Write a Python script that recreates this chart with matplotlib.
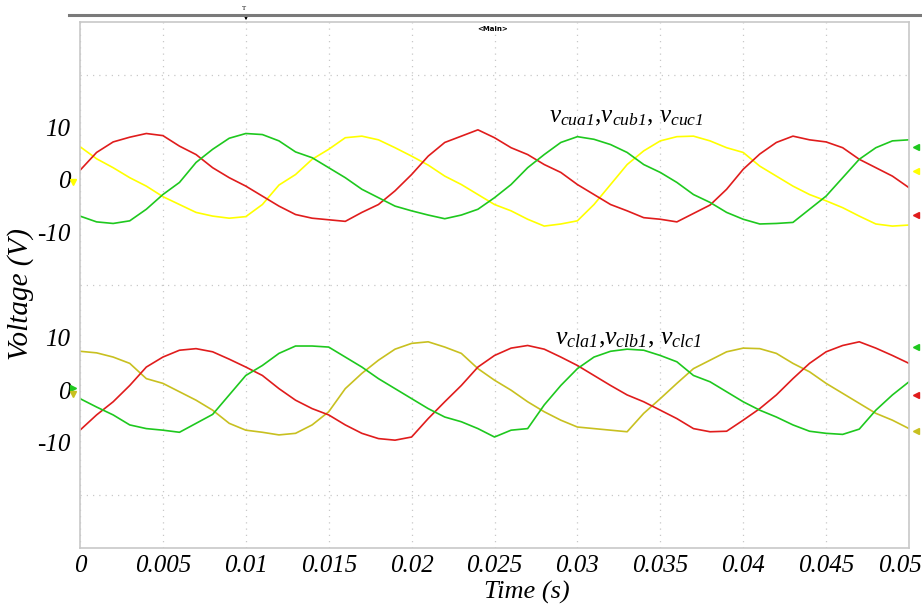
import numpy as np
import matplotlib.pyplot as plt
from matplotlib.lines import Line2D
from matplotlib.transforms import ScaledTranslation

plt.rcParams['font.family'] = ['Liberation Serif', 'DejaVu Serif']
plt.rcParams['mathtext.fontset'] = 'custom'
plt.rcParams['mathtext.rm'] = 'Liberation Serif:italic'
plt.rcParams['mathtext.it'] = 'Liberation Serif:italic'

# sample times (s), one reading per millisecond
t = np.arange(51) * 1e-3

# upper group: v_cua1, v_cub1, v_cuc1 (V)
v_cua1 = [1.8, 5.2, 7.2, 8.1, 8.8, 8.4, 6.4, 4.8, 2.3, 0.4,
          -1.2, -3.1, -5.0, -6.6, -7.3, -7.6, -7.9, -6.2, -4.7, -2.1,
          1.0, 4.5, 7.1, 8.3, 9.5, 8.0, 6.1, 4.8, 2.9, 1.4,
          -0.9, -2.8, -4.7, -5.9, -7.2, -7.5, -8.0, -6.4, -4.8, -1.8,
          2.0, 4.9, 7.1, 8.3, 7.6, 7.2, 6.1, 3.9, 2.3, 0.7, -1.5]
v_cub1 = [-6.9, -8.0, -8.3, -7.8, -5.6, -2.8, -0.5, 3.3, 5.8, 7.9,
          8.8, 8.6, 7.4, 5.3, 4.2, 2.3, 0.4, -1.8, -3.4, -5.0,
          -5.9, -6.7, -7.4, -6.7, -5.6, -3.4, -0.9, 2.3, 4.8, 7.1,
          8.2, 7.7, 6.7, 5.2, 2.9, 1.4, -0.5, -2.8, -4.3, -6.2,
          -7.5, -8.4, -8.3, -8.1, -5.6, -3.1, 0.4, 3.9, 6.1, 7.4, 7.6]
v_cuc1 = [6.3, 4.0, 2.3, 0.4, -1.2, -3.2, -4.7, -6.2, -6.9, -7.3,
          -7.0, -4.7, -1.0, 1.0, 3.9, 5.8, 8.0, 8.3, 7.6, 6.1,
          4.5, 2.8, 0.7, -0.9, -2.8, -4.7, -5.9, -7.5, -8.8, -8.4,
          -7.8, -4.7, -0.9, 2.9, 5.5, 7.4, 8.2, 8.3, 7.4, 6.1,
          5.2, 2.6, 0.7, -1.2, -2.8, -4.0, -5.3, -6.9, -8.4, -8.8, -8.6]

# lower group: v_cla1, v_clb1, v_clc1 (V)
v_cla1 = [-7.6, -4.7, -2.2, 0.9, 4.4, 6.3, 7.6, 7.9, 7.3, 5.9,
          4.4, 2.8, 0.3, -1.9, -3.5, -4.7, -6.6, -8.2, -9.2, -9.5,
          -8.9, -5.4, -2.2, 0.9, 4.4, 6.6, 8.0, 8.5, 7.8, 6.3,
          4.7, 2.8, 0.9, -0.9, -2.2, -3.8, -5.4, -7.3, -7.9, -7.8,
          -5.7, -3.5, -0.9, 2.2, 5.1, 7.3, 8.5, 9.2, 8.0, 6.6, 5.1]
v_clb1 = [-1.6, -3.2, -4.7, -6.6, -7.3, -7.6, -8.0, -6.3, -4.6, -0.9,
          2.8, 4.7, 7.0, 8.4, 8.4, 8.2, 6.3, 4.4, 2.2, 0.3,
          -1.6, -3.5, -5.1, -6.0, -7.3, -8.9, -7.6, -7.3, -2.8, 0.9,
          4.1, 6.3, 7.4, 7.8, 7.6, 6.6, 5.4, 2.8, 1.6, -0.3,
          -2.2, -3.8, -5.1, -6.6, -7.8, -8.2, -8.4, -7.4, -3.8, -0.9, 1.6]
v_clc1 = [7.4, 7.1, 6.3, 5.1, 2.2, 1.3, -0.3, -1.9, -3.8, -6.3,
          -7.6, -8.0, -8.5, -8.2, -6.6, -4.1, 0.3, 3.2, 5.7, 7.8,
          8.9, 9.2, 8.2, 7.0, 4.1, 1.9, 0.0, -2.2, -4.1, -5.7,
          -7.0, -7.3, -7.6, -7.9, -4.4, -1.6, 1.3, 4.1, 5.7, 7.3,
          8.0, 7.9, 7.0, 5.1, 3.5, 1.3, -0.6, -2.5, -4.4, -5.7, -7.3]

# channel flags on the right edge (V, within each group)
flag_upper = [6.2, 1.6, -6.6]
flag_lower = [8.3, -0.9, -7.7]

x_ticks = [0, 0.005, 0.01, 0.015, 0.02, 0.025, 0.03, 0.035, 0.04, 0.045, 0.05]
x_labels = ['0', '0.005', '0.01', '0.015', '0.02', '0.025', '0.03',
            '0.035', '0.04', '0.045', '0.05']

red = '#e01c1c'
green = '#1ec81e'
yellow = '#ffff00'
olive = '#c8c020'

up_off = 0
low_off = -40

fig = plt.figure(figsize=(9.22, 6.08), dpi=100)
ax = fig.add_axes([80/922, 1-548/608, 829/922, 526/608])

lw = 1.2
ax.plot(t, np.array(v_cuc1) + up_off, color=yellow, lw=lw)
ax.plot(t, np.array(v_cua1) + up_off, color=red, lw=lw)
ax.plot(t, np.array(v_cub1) + up_off, color=green, lw=lw)
ax.plot(t, np.array(v_clc1) + low_off, color=olive, lw=lw)
ax.plot(t, np.array(v_cla1) + low_off, color=red, lw=lw)
ax.plot(t, np.array(v_clb1) + low_off, color=green, lw=lw)

ax.set_xlim(0, 0.05)
ax.set_ylim(-70, 30)

# right-hand channel flags
ytr = ax.get_yaxis_transform()
for v, c in zip(flag_upper, [green, yellow, red]):
    ax.plot(1.008, v + up_off, marker='<', ms=5, color=c, clip_on=False, transform=ytr)
for v, c in zip(flag_lower, [green, red, olive]):
    ax.plot(1.008, v + low_off, marker='<', ms=5, color=c, clip_on=False, transform=ytr)
# left zero markers
ax.plot(-0.008, up_off - 0.5, marker='v', ms=4, color=yellow, clip_on=False, transform=ytr)
ax.plot(-0.008, low_off + 0.5, marker='>', ms=4, color=green, clip_on=False, transform=ytr)
ax.plot(-0.008, low_off - 0.8, marker='v', ms=4, color=olive, clip_on=False, transform=ytr)

ax.set_xticks(x_ticks)
ax.set_xticklabels(x_labels, fontsize=18, style='italic')
ax.set_yticks([10, 0, -10, -30, -40, -50])
ax.set_yticklabels(['10', '0', '-10', '10', '0', '-10'], fontsize=18, style='italic')
ax.tick_params(length=0, pad=7)
ax.tick_params(axis='x', pad=5)
# the last time label sits against the window edge
last = ax.get_xticklabels()[-1]
last.set_transform(last.get_transform() + ScaledTranslation(-0.09, 0, fig.dpi_scale_trans))

ax.set_yticks([20, 10, 0, -10, -20, -30, -40, -50, -60], minor=True)
ax.grid(True, which='minor', axis='y', color='#c8c8c8', ls=(0, (1, 4)), lw=0.9)
ax.grid(True, which='major', axis='x', color='#c8c8c8', ls=(0, (1, 4)), lw=0.9)
ax.tick_params(which='minor', length=0)

for s in ax.spines.values():
    s.set_color('#c8c8c8')
    s.set_linewidth(1.2)

ax.set_xlabel('Time (s)', fontsize=19, style='italic')
ax.xaxis.set_label_coords(0.539, -0.062)
ax.set_ylabel('Voltage (V)', fontsize=21, style='italic')
ax.yaxis.set_label_coords(-0.055, 0.483)

ax.text(0.566, 11.9, r'$v_{cua1}$,$v_{cub1}$, $v_{cuc1}$', fontsize=18,
        transform=ytr, va='center')
ax.text(0.573, low_off + 9.8, r'$v_{cla1}$,$v_{clb1}$, $v_{clc1}$', fontsize=18.5,
        transform=ytr, va='center')

# top bar of the scope window
fig.add_artist(Line2D([69/922, 1.0], [1-15/608, 1-15/608], color='#7a7a7a', lw=2.2))
fig.text(244/922, 1-9/608, 'T', fontsize=5, ha='center', va='center')
ax.annotate('', xy=(246/922, 1-23/608), xytext=(246/922, 1-13/608),
            xycoords='figure fraction', textcoords='figure fraction',
            arrowprops=dict(arrowstyle='-|>', color='black', lw=0.8,
                            mutation_scale=6))
fig.text(493/922, 1-29/608, '<Main>', fontsize=5, ha='center', va='center',
         family='DejaVu Sans', weight='bold')

fig.savefig('out.png', dpi=100)
